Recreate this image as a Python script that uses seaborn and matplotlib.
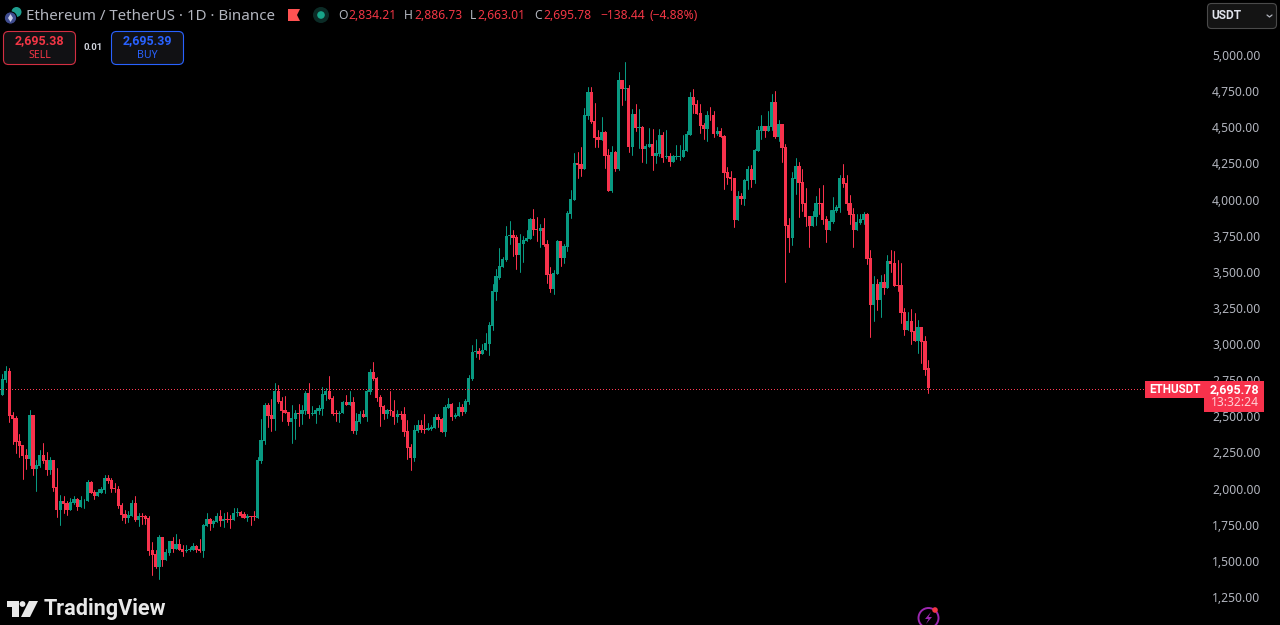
import numpy as np
import pandas as pd
import matplotlib
matplotlib.use("Agg")
import matplotlib.pyplot as plt
from matplotlib.patches import Circle, FancyBboxPatch, Polygon, Rectangle
import seaborn as sns

# Daily candles, prices in USDT
direction = ("GGRRRRRRGR" "GGRRGRRGRR" "GGRGGGRRGG" "GRRRRRRGGR" "GRRRRRGRGG"
             "RGRRGGGRRG" "GRGGRGRRGG" "RRGRRGGGRR" "GRRRRGGRGG" "RGGGGGRRRG"
             "GRGRGGRGGR" "RRRGRRGRRR" "RGGRRGGGRR" "GGRGGRGGGG" "RGGGGGGGGG"
             "RRGGGGRRGR" "RRGGRGGGGR" "RGGRRRGRRG" "RGRGRGRGRG" "GRGGRGRGGG"
             "GGGRRRRGRR" "GRRRRRGRGG" "RGGGRGGRGR" "RRGGRRRRGG" "RRRGGGGRRR"
             "RGGGRRGRGR" "GRRRRRGRRG" "RRR")

body_top = [
    2758,2814,2814,2509,2489,2327,2302,2230,2509,2509,
    2161,2233,2233,2198,2198,2200,2011,1912,1914,1903,
    1905,1928,1928,1924,1924,2046,2046,1977,1974,1997,
    2074,2074,2060,2004,1997,1887,1827,1818,1901,1901,
    1811,1811,1811,1797,1575,1548,1665,1665,1562,1638,
    1638,1617,1617,1582,1575,1582,1603,1603,1582,1746,
    1790,1790,1774,1811,1811,1790,1790,1790,1831,1836,
    1838,1824,1811,1811,1811,2198,2336,2578,2578,2509,
    2675,2675,2606,2544,2530,2489,2523,2523,2543,2661,
    2661,2520,2543,2557,2654,2675,2675,2626,2520,2523,
    2599,2599,2599,2599,2467,2516,2516,2675,2806,2806,
    2765,2633,2571,2543,2543,2537,2516,2516,2516,2398,
    2288,2405,2440,2440,2412,2419,2426,2495,2495,2481,
    2564,2585,2585,2509,2564,2564,2606,2765,2945,2952,
    2952,2959,3007,3131,3367,3471,3540,3588,3747,3754,
    3754,3741,3699,3720,3734,3865,3865,3796,3803,3803,
    3692,3485,3491,3713,3713,3678,3907,4003,4252,4252,
    4246,4585,4744,4744,4543,4432,4467,4467,4308,4329,
    4329,4827,4827,4771,4771,4591,4591,4501,4501,4370,
    4384,4384,4322,4446,4446,4299,4301,4301,4301,4301,
    4342,4453,4709,4709,4661,4598,4515,4585,4585,4585,
    4474,4474,4440,4191,4156,4149,4025,4025,4135,4211,
    4211,4343,4481,4509,4509,4509,4675,4675,4523,4523,
    4363,3824,4149,4232,4232,4121,3976,3886,3886,3976,
    3976,3976,3865,3852,3928,3948,4149,4149,4114,3976,
    3900,3845,3865,3900,3900,3596,3416,3416,3430,3430,
    3575,3575,3561,3409,3409,3222,3160,3160,3091,3118,
    3118,3021,2834.21]
body_bottom = [
    2648,2751,2505,2482,2325,2295,2226,2205,2205,2133,
    2133,2157,2191,2129,2129,2007,1852,1852,1896,1852,
    1852,1898,1873,1873,1919,1914,1970,1949,1949,1970,
    1990,2053,1997,2000,1880,1818,1797,1797,1811,1783,
    1783,1806,1790,1568,1541,1458,1458,1506,1506,1555,
    1582,1582,1575,1562,1571,1575,1575,1575,1566,1568,
    1741,1753,1753,1769,1776,1776,1785,1785,1783,1831,
    1813,1797,1797,1806,1806,1799,2191,2329,2502,2482,
    2482,2599,2537,2523,2461,2461,2482,2518,2516,2537,
    2516,2516,2516,2537,2550,2647,2620,2516,2516,2518,
    2523,2578,2578,2398,2396,2460,2495,2495,2668,2758,
    2626,2564,2516,2516,2537,2495,2495,2511,2391,2281,
    2211,2211,2398,2405,2407,2405,2412,2419,2474,2391,
    2391,2557,2495,2495,2502,2530,2530,2599,2758,2945,
    2931,2931,2959,3000,3125,3360,3457,3533,3581,3750,
    3734,3616,3616,3692,3713,3727,3789,3791,3782,3685,
    3478,3381,3381,3485,3595,3595,3671,3900,3996,4239,
    4211,4211,4578,4536,4425,4412,4412,4301,4059,4059,
    4211,4211,4764,4767,4363,4363,4495,4497,4349,4349,
    4363,4301,4301,4315,4287,4294,4259,4259,4296,4296,
    4294,4335,4446,4654,4591,4508,4488,4488,4582,4453,
    4453,4433,4184,4149,4142,3858,3858,4004,4004,4128,
    4135,4135,4336,4474,4474,4474,4502,4433,4433,4357,
    3817,3734,3734,4142,4114,3969,3879,3817,3817,3879,
    3971,3858,3789,3789,3845,3921,3941,4108,3969,3893,
    3789,3789,3838,3858,3589,3270,3270,3305,3305,3388,
    3388,3554,3402,3404,3215,3098,3098,3084,3021,3021,
    3014,2821,2695.78]
high = [
    2793,2848,2832,2528,2505,2378,2302,2276,2544,2509,
    2198,2267,2316,2251,2221,2200,2145,1956,1949,1914,
    1933,1949,1933,1949,1928,2060,2055,1990,1995,2014,
    2094,2094,2071,2041,2018,1898,1852,1845,1921,1949,
    1829,1829,1818,1813,1631,1575,1679,1665,1582,1638,
    1665,1686,1651,1610,1610,1598,1624,1610,1649,1755,
    1831,1794,1783,1829,1852,1829,1836,1815,1866,1864,
    1848,1836,1824,1811,1848,2216,2479,2590,2595,2618,
    2733,2717,2636,2641,2530,2578,2544,2585,2578,2677,
    2733,2571,2557,2578,2703,2696,2779,2640,2543,2537,
    2606,2647,2675,2633,2525,2537,2543,2682,2825,2876,
    2772,2647,2578,2550,2675,2613,2543,2537,2564,2474,
    2308,2440,2474,2474,2516,2454,2440,2516,2516,2488,
    2578,2626,2592,2523,2599,2585,2620,2786,2993,3035,
    2972,3000,3076,3152,3415,3517,3664,3602,3817,3851,
    3789,3754,3761,3747,3789,3872,3934,3879,3830,3872,
    3720,3533,3512,3720,3713,3692,3920,4066,4322,4329,
    4363,4633,4778,4778,4668,4481,4571,4474,4349,4370,
    4335,4882,4827,4953,4794,4626,4661,4626,4508,4384,
    4495,4488,4412,4485,4467,4481,4322,4308,4377,4377,
    4446,4474,4744,4764,4688,4661,4529,4612,4640,4612,
    4502,4495,4447,4225,4197,4149,4059,4043,4142,4232,
    4239,4350,4509,4585,4509,4613,4730,4751,4550,4523,
    4384,3872,4191,4287,4260,4211,4080,3886,3921,4025,
    4080,4101,3886,3928,4020,3962,4170,4246,4170,4031,
    3941,3900,3900,3914,3907,3651,3471,3450,3478,3485,
    3616,3651,3644,3579,3561,3250,3222,3243,3215,3167,
    3118,3056,2886.73]
low = [
    2648,2740,2463,2309,2244,2221,2067,2133,2163,2094,
    1984,2152,2175,2094,2099,1984,1806,1748,1829,1818,
    1852,1894,1852,1871,1868,1914,1967,1928,1949,1970,
    1970,2041,1977,1979,1864,1783,1764,1771,1811,1776,
    1744,1755,1755,1541,1402,1449,1375,1465,1506,1543,
    1564,1582,1575,1534,1562,1568,1575,1564,1562,1525,
    1741,1714,1732,1769,1741,1737,1769,1730,1783,1811,
    1806,1797,1776,1748,1783,1799,2180,2309,2429,2401,
    2406,2595,2468,2521,2440,2313,2341,2433,2447,2516,
    2488,2509,2454,2516,2509,2613,2617,2509,2467,2460,
    2520,2578,2578,2387,2377,2456,2495,2467,2654,2751,
    2606,2433,2481,2488,2509,2447,2460,2481,2364,2204,
    2128,2191,2389,2391,2384,2405,2405,2419,2426,2391,
    2364,2557,2474,2488,2502,2509,2520,2585,2751,2910,
    2896,2931,2959,2924,3097,3305,3450,3533,3574,3692,
    3609,3519,3498,3568,3713,3727,3754,3713,3671,3678,
    3420,3360,3346,3485,3540,3561,3644,3872,3996,4149,
    4163,4211,4557,4529,4363,4363,4412,4218,4059,4052,
    4197,4204,4654,4688,4329,4308,4474,4356,4259,4252,
    4363,4204,4252,4301,4259,4287,4232,4259,4280,4273,
    4294,4335,4446,4598,4591,4460,4418,4405,4550,4432,
    4447,4433,4073,4108,4066,3812,3858,3969,3962,4073,
    4089,4114,4336,4419,4433,4474,4481,4426,4405,4260,
    3430,3637,3686,4038,3879,3921,3817,3672,3817,3824,
    3900,3831,3706,3789,3838,3914,3914,4087,3928,3831,
    3672,3789,3831,3831,3554,3049,3160,3236,3187,3347,
    3388,3499,3402,3367,3146,3063,3098,2999,3021,2938,
    2869,2786,2663.01]

price_ticks = [1250, 1500, 1750, 2000, 2250, 2500, 2750, 3000, 3250, 3500,
               3750, 4000, 4250, 4500, 4750, 5000]
last_price = 2695.78

GREEN = "#089981"
RED = "#f7324c"
GREY = "#b2b5be"
FONT = ["Noto Sans", "DejaVu Sans"]
BOLD = ["Roboto", "DejaVu Sans"]

sns.set_theme(style="dark", rc={"axes.facecolor": "black", "figure.facecolor": "black",
                                "axes.grid": False})
plt.rcParams["font.family"] = FONT

n = min(len(direction), len(body_top), len(body_bottom), len(high), len(low))
candles = pd.DataFrame({
    "day": np.arange(n),
    "dir": list(direction[:n]),
    "top": body_top[:n],
    "bottom": body_bottom[:n],
    "high": high[:n],
    "low": low[:n],
})
candles["size"] = candles["top"] - candles["bottom"]
wicks = candles.melt(id_vars=["day", "dir"], value_vars=["high", "low"], value_name="price")

fig = plt.figure(figsize=(12.8, 6.25), dpi=100)
ax = fig.add_axes([0, 0, 1, 1])

sns.lineplot(data=wicks, x="day", y="price", units="day", estimator=None, sort=True,
             hue="dir", palette={"G": GREEN, "R": RED}, legend=False,
             linewidth=0.72, ax=ax, zorder=2)
for code, colour in (("G", GREEN), ("R", RED)):
    sub = candles[candles["dir"] == code]
    sns.barplot(x=sub["day"].to_numpy(), y=sub["size"].to_numpy(), bottom=sub["bottom"].to_numpy(),
                native_scale=True, color=colour, saturation=1, errorbar=None, width=0.95,
                linewidth=0, ax=ax, zorder=3)

px_per_day = 3.404
first_px = 2.4
ax.set_xlim(-first_px / px_per_day, (1280 - first_px) / px_per_day)
usd_per_px = 250 / 36.13
ax.set_ylim(5000 - (625 - 55) * usd_per_px, 5000 + 55 * usd_per_px)

ax.set_xlabel("")
ax.set_ylabel("")
ax.set_xticks([])
ax.set_yticks(price_ticks)
ax.set_yticklabels([f"{p:,.2f}" for p in price_ticks])
ax.yaxis.tick_right()
ax.tick_params(axis="y", length=0, pad=-49, labelsize=8.7, labelcolor=GREY)
for s in ax.spines.values():
    s.set_visible(False)

# Overlay for the TradingView interface, in pixel units
ui = fig.add_axes([0, 0, 1, 1], facecolor="none")
ui.set_xlim(0, 1280)
ui.set_ylim(625, 0)
ui.axis("off")

# Dotted last-price line
ui.plot([0, 1145], [389.5, 389.5], color="#ff3a52", lw=0.72, linestyle=(0, (1, 2)), zorder=1,
        snap=False)


def box(x0, y0, x1, y1, face, edge, r=4, lw=0.8):
    ui.add_patch(FancyBboxPatch((x0 + r, y0 + r), x1 - x0 - 2 * r, y1 - y0 - 2 * r,
                                boxstyle=f"round,pad={r},rounding_size={r}",
                                fc=face, ec=edge, lw=lw))


def label(x, y, s, color=GREY, size=8.7, ha="left", weight="normal"):
    family = BOLD if weight != "normal" else FONT
    ui.text(x, y, s, color=color, fontsize=size, ha=ha, va="center", fontweight=weight, family=family)


# Symbol icon and title
ui.add_patch(Circle((16.5, 12), 5, fc="#1f9e8f", ec="none"))
ui.add_patch(Circle((10.5, 18), 6.2, fc="#3f4c8f", ec="black", lw=0.8))
ui.add_patch(Polygon([(10.5, 14), (13, 18), (10.5, 22), (8, 18)], fc="#c8cce8", ec="none"))
label(26, 16, "Ethereum / TetherUS · 1D · Binance", size=10.85)
ui.add_patch(Polygon([(288, 9), (300, 9), (297, 15), (300, 21), (288, 21)], fc="#ff5252", ec="none"))
ui.add_patch(Circle((321, 15), 8, fc="#0b2b26", ec="none"))
ui.add_patch(Circle((321, 15), 3.8, fc="#17a589", ec="none"))

# OHLC readout
for x, vx, letter, value in ((338, 348, "O", "2,834.21"), (404, 414, "H", "2,886.73"),
                             (470, 477, "L", "2,663.01"), (534, 543, "C", "2,695.78")):
    label(x, 15.5, letter, color=GREY)
    label(vx, 15.5, value, color="#f23645")
label(600, 15.5, "−138.44", color="#f23645")
label(650, 15.5, "(−4.88%)", color="#f23645")

# Sell / buy buttons
box(3.5, 31.5, 75.5, 64.5, "#111114", "#d32f42", r=5)
label(39.5, 40.5, "2,695.38", color="#f23645", size=9, ha="center", weight="bold")
label(39.5, 55, "SELL", color="#f23645", size=7.6, ha="center")
label(93, 47.5, "0.01", color="#d1d4dc", size=6.8, ha="center", weight="bold")
box(111.5, 31.5, 183.5, 64.5, "#111114", "#2962ff", r=5)
label(147.5, 40.5, "2,695.39", color="#2962ff", size=9, ha="center", weight="bold")
label(147.5, 55, "BUY", color="#2962ff", size=7.6, ha="center")

# Currency selector
box(1207.5, 3.5, 1276.5, 28.5, "#141414", "#4a4a4a", r=4)
label(1211, 15.5, "USDT", color="#e0e3eb", size=8.6, weight="bold")
ui.plot([1267, 1269.5, 1272], [15, 17, 15], color=GREY, lw=0.9)

# Last-price tags
ui.add_patch(Rectangle((1145, 381), 59, 17, fc=RED, ec="none"))
label(1174.5, 389.5, "ETHUSDT", color="white", size=8.4, ha="center", weight="bold")
ui.add_patch(Rectangle((1204, 381), 60, 31, fc=RED, ec="none"))
label(1259, 389.5, f"{last_price:,.2f}", color="white", size=9, ha="right", weight="bold")
label(1259, 403, "13:32:24", color="#ffd0d6", size=8.7, ha="right")

# TradingView logo
ui.add_patch(Polygon([(7, 601), (19, 601), (19, 617), (12, 617), (12, 607), (7, 607)], fc="#e8e8e8", ec="none"))
ui.add_patch(Circle((22.5, 604), 2.9, fc="#e8e8e8", ec="none"))
ui.add_patch(Polygon([(29, 601), (38, 601), (30, 617), (21, 617)], fc="#e8e8e8", ec="none"))
label(44, 609.5, "TradingView", color="#e8e8e8", size=15.6, weight="bold")

# Bolt badge
ui.add_patch(Circle((928.5, 618), 10, fc="black", ec="#9c27b0", lw=1.4))
ui.add_patch(Polygon([(931, 612), (925, 619), (928.5, 619), (926, 624), (932, 617), (928.5, 617)],
                     fc="#9c27b0", ec="none"))
ui.add_patch(Circle((935, 610), 2.8, fc="#f23645", ec="none"))

fig.savefig("out.png", dpi=100, facecolor="black")
